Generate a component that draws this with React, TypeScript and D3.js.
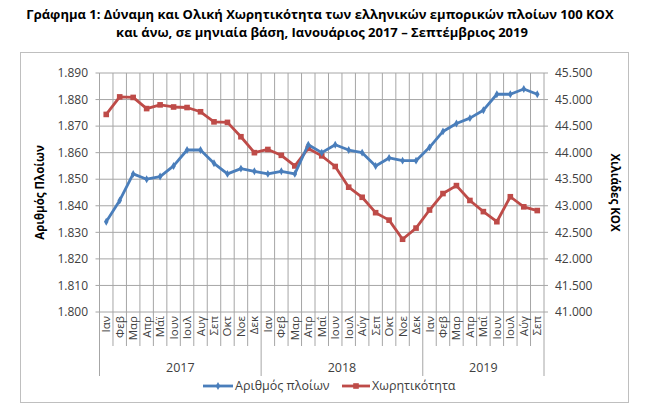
import React from 'react';
import * as d3 from 'd3';

// monthly series, Jan 2017 – Sep 2019
const years = ['2017', '2018', '2019'];
const months2017 = ['Ιαν', 'Φεβ', 'Μαρ', 'Απρ', 'Μάϊ', 'Ιουν', 'Ιουλ', 'Αυγ', 'Σεπ', 'Οκτ', 'Νοε', 'Δεκ'];
const months2018 = ['Ιαν', 'Φεβ', 'Μαρ', 'Απρ', 'Μαΐ', 'Ιουν', 'Ιουλ', 'Αύγ', 'Σεπ', 'Οκτ', 'Νοε', 'Δεκ'];
const months2019 = ['Ιαν', 'Φεβ', 'Μαρ', 'Απρ', 'Μαΐ', 'Ιουν', 'Ιουλ', 'Αύγ', 'Σεπ'];

// number of ships (left axis)
const ships = [
  1834, 1842, 1852, 1850, 1851, 1855, 1861, 1861, 1856, 1852, 1854, 1853,
  1852, 1853, 1852, 1863, 1860, 1863, 1861, 1860, 1855, 1858, 1857, 1857,
  1862, 1868, 1871, 1873, 1876, 1882, 1882, 1884, 1882,
];

// gross tonnage, thousands (right axis)
const tonnage = [
  44720, 45050, 45040, 44830, 44900, 44860, 44850, 44770, 44580, 44570, 44300, 44000,
  44060, 43950, 43750, 44080, 43940, 43740, 43350, 43160, 42870, 42730, 42370, 42580,
  42920, 43230, 43380, 43100, 42890, 42700, 43170, 42980, 42910,
];

const leftTicks = [1800, 1810, 1820, 1830, 1840, 1850, 1860, 1870, 1880, 1890];
const rightTicks = [41000, 41500, 42000, 42500, 43000, 43500, 44000, 44500, 45000, 45500];

const W = 650;
const H = 414;
const plot = { left: 99.5, right: 544, top: 73, bottom: 312 };

const fmt = (v: number) => d3.format(',.3f')(v / 1000).replace(',', '.');

export default function App() {
  const labels = [
    ...months2017.map((m) => ({ m, y: '2017' })),
    ...months2018.map((m) => ({ m, y: '2018' })),
    ...months2019.map((m) => ({ m, y: '2019' })),
  ];
  const keys = labels.map((d, i) => d.y + '-' + i);

  const x = d3.scaleBand().domain(keys).range([plot.left, plot.right]);
  const yL = d3.scaleLinear().domain([1800, 1890]).range([plot.bottom, plot.top]);
  const yR = d3.scaleLinear().domain([41000, 45500]).range([plot.bottom, plot.top]);
  const cx = (i: number) => (x(keys[i]) as number) + x.bandwidth() / 2;

  const lineL = d3.line<number>().x((_, i) => cx(i)).y((d) => yL(d));
  const lineR = d3.line<number>().x((_, i) => cx(i)).y((d) => yR(d));

  const boundaries = d3.range(keys.length + 1).map((i) => plot.left + i * x.bandwidth());
  const groupStarts = [0, months2017.length, months2017.length + months2018.length, keys.length];

  const blue = '#4a7ebb';
  const red = '#be4b48';
  const grid = '#a6a6a6';
  const font = '"Open Sans", sans-serif';

  return (
    <svg width={W} height={H} style={{ position: 'absolute', left: 0, top: 0 }} fontFamily={font}>
      <rect x={0} y={0} width={W} height={H} fill="#fff" />
      <rect x={20.5} y={52.5} width={608} height={350} fill="none" stroke="#bfbfbf" />

      {/* title */}
      <text x={320} y={19} textAnchor="middle" fontSize={13} fontWeight="bold" fill="#000">
        Γράφημα 1: Δύναμη και Ολική Χωρητικότητα των ελληνικών εμπορικών πλοίων 100 ΚΟΧ
      </text>
      <text x={322} y={37} textAnchor="middle" fontSize={13} fontWeight="bold" fill="#000">
        και άνω, σε μηνιαία βάση, Ιανουάριος 2017 – Σεπτέμβριος 2019
      </text>

      {/* gridlines */}
      {leftTicks.map((t) => (
        <line key={'h' + t} x1={plot.left} x2={plot.right} y1={yL(t)} y2={yL(t)} stroke={grid} />
      ))}
      {boundaries.map((b, i) => (
        <line key={'v' + i} x1={b} x2={b} y1={plot.top} y2={plot.bottom} stroke={grid} />
      ))}

      {/* category separators under the axis */}
      {boundaries.map((b, i) => (
        <line key={'s' + i} x1={b} x2={b} y1={plot.bottom} y2={groupStarts.includes(i) ? 376 : 346} stroke={grid} />
      ))}
      <line x1={plot.left} x2={plot.left} y1={plot.top} y2={plot.bottom} stroke={grid} />

      {/* left axis */}
      {leftTicks.map((t) => (
        <g key={'l' + t}>
          <line x1={plot.left - 4} x2={plot.left} y1={yL(t)} y2={yL(t)} stroke={grid} />
          <text x={88} y={yL(t)} dy="0.35em" textAnchor="end" fontSize={12} fill="#404040">{fmt(t)}</text>
        </g>
      ))}
      <text transform={`translate(44,${(plot.top + plot.bottom) / 2}) rotate(-90)`} textAnchor="middle"
        fontSize={11.5} fontWeight="bold" fill="#000">Αριθμός Πλοίων</text>

      {/* right axis */}
      {rightTicks.map((t) => (
        <g key={'r' + t}>
          <line x1={plot.right} x2={plot.right + 4} y1={yR(t)} y2={yR(t)} stroke={grid} />
          <text x={555} y={yR(t)} dy="0.35em" textAnchor="start" fontSize={12} fill="#404040">{fmt(t)}</text>
        </g>
      ))}
      <text transform={`translate(611,${(plot.top + plot.bottom) / 2}) rotate(90)`} textAnchor="middle"
        fontSize={11.5} fontWeight="bold" fill="#000">Χιλιάδες ΚΟΧ</text>

      {/* month and year labels */}
      {labels.map((d, i) => (
        <text key={'m' + i} transform={`translate(${cx(i)},${plot.bottom + 4}) rotate(-90)`} dy="0.35em"
          textAnchor="end" fontSize={11.5} fill="#404040">{d.m}</text>
      ))}
      {years.map((yr, i) => (
        <text key={yr} x={(boundaries[groupStarts[i]] + boundaries[groupStarts[i + 1]]) / 2} y={372}
          textAnchor="middle" fontSize={12.5} fill="#404040">{yr}</text>
      ))}

      {/* series */}
      <path d={lineR(tonnage) ?? ''} fill="none" stroke={red} strokeWidth={2.8} strokeLinejoin="round" />
      {tonnage.map((v, i) => (
        <rect key={'q' + i} x={cx(i) - 2.8} y={yR(v) - 2.8} width={5.6} height={5.6} fill={red} />
      ))}
      <path d={lineL(ships) ?? ''} fill="none" stroke={blue} strokeWidth={2.8} strokeLinejoin="round" />
      {ships.map((v, i) => (
        <path key={'d' + i} d={d3.symbol(d3.symbolDiamond, 18)() ?? ''} transform={`translate(${cx(i)},${yL(v)})`} fill={blue} />
      ))}

      {/* legend */}
      <line x1={203} x2={233} y1={386} y2={386} stroke={blue} strokeWidth={2.8} />
      <path d={d3.symbol(d3.symbolDiamond, 18)() ?? ''} transform="translate(218,386)" fill={blue} />
      <text x={235} y={386} dy="0.35em" fontSize={12.5} fill="#404040">Αριθμός πλοίων</text>
      <line x1={342} x2={370} y1={386} y2={386} stroke={red} strokeWidth={2.8} />
      <rect x={353.2} y={383.2} width={5.6} height={5.6} fill={red} />
      <text x={372} y={386} dy="0.35em" fontSize={12.5} fill="#404040">Χωρητικότητα</text>
    </svg>
  );
}
